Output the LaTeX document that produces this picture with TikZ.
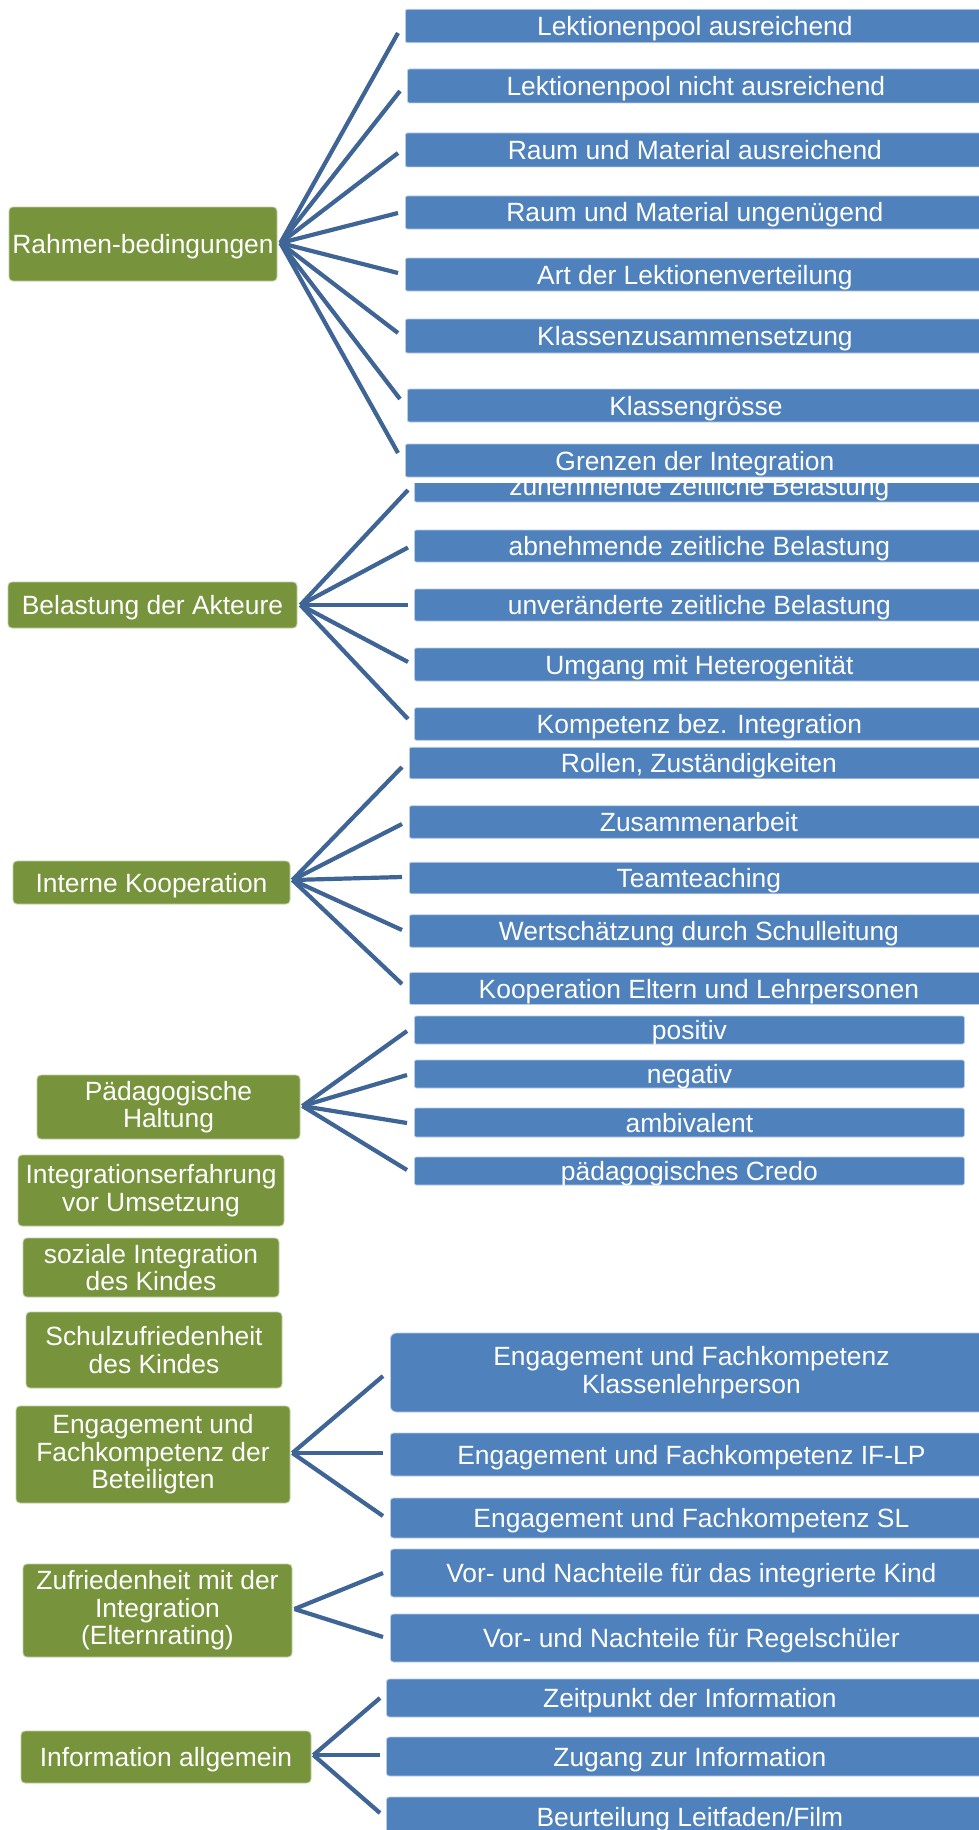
\documentclass[tikz,border=0pt]{standalone}
\usepackage{fontspec}
\setmainfont{Liberation Sans}
\definecolor{boxblue}{RGB}{79,129,189}
\definecolor{boxgreen}{RGB}{119,147,60}
\definecolor{linkblue}{RGB}{63,100,150}
\definecolor{edgeblue}{RGB}{185,205,229}
\definecolor{edgegreen}{RGB}{190,207,160}

\tikzset{
  labelfont/.style={font=\fontsize{26.4}{27.5}\selectfont},
  topic/.style={labelfont, fill=boxgreen, draw=edgegreen, line width=0.8pt,
    rounded corners=4pt, text=white, align=center, inner sep=0pt},
  topicone/.style={topic, text height=19pt, text depth=0pt},
  cell/.style={labelfont, fill=boxblue, draw=edgeblue, line width=0.8pt,
    rounded corners=2pt, text=white, align=center, inner sep=0pt, anchor=west},
  item/.style={cell, text height=19pt, text depth=0pt},
  link/.style={draw=linkblue, line width=4.2pt},
}

\begin{document}
\begin{tikzpicture}[x=1pt,y=1pt]
\useasboundingbox (0,0) rectangle (979,-1830);
\fill[white] (0,0) rectangle (979,-1830);
\clip (0,0) rectangle (979,-1830);

% ---- topics (left column)
\node[topicone, minimum width=268, minimum height=74] (g1) at (143,-244) {Rahmen-bedingungen};
\node[topicone, minimum width=289, minimum height=46] (g2) at (152.5,-605) {Belastung der Akteure};
\node[topicone, minimum width=277, minimum height=43] (g3) at (151.5,-882.5) {Interne Kooperation};
\node[topic, minimum width=263, minimum height=64] (g4) at (168.5,-1107) {Pädagogische\\Haltung};
\node[topic, minimum width=266, minimum height=71] (g5) at (151,-1190.5) {Integrationserfahrung\\vor Umsetzung};
\node[topic, minimum width=256, minimum height=59] (g6) at (151,-1267.5) {soziale Integration\\des Kindes};
\node[topic, minimum width=256, minimum height=76] (g7) at (154,-1350) {Schulzufriedenheit\\des Kindes};
\node[topic, minimum width=274, minimum height=97] (g8) at (153,-1454.5) {Engagement und\\Fachkompetenz der\\Beteiligten};
\node[topic, minimum width=269, minimum height=93] (g9) at (157.5,-1610.5) {Zufriedenheit mit der\\Integration\\(Elternrating)};
\node[topicone, minimum width=290, minimum height=52] (g10) at (166,-1757) {Information allgemein};

% ---- Rahmenbedingungen
\node[item, minimum width=579, minimum height=33.4] (b1) at (405,-26) {Lektionenpool ausreichend};
\node[item, minimum width=577, minimum height=34] (b2) at (407,-86) {Lektionenpool nicht ausreichend};
\node[item, minimum width=579, minimum height=34] (b3) at (405,-150) {Raum und Material ausreichend};
\node[item, minimum width=579, minimum height=33] (b4) at (405,-212.5) {Raum und Material ungenügend};
\node[item, minimum width=579, minimum height=33] (b5) at (405,-274.5) {Art der Lektionenverteilung};
\node[item, minimum width=579, minimum height=34] (b6) at (405,-336) {Klassenzusammensetzung};
\node[item, minimum width=577, minimum height=33] (b7) at (407,-405.5) {Klassengrösse};
\node[item, minimum width=579, minimum height=33] (b8) at (405,-460.5) {Grenzen der Integration};

% ---- Belastung der Akteure (first box partly hidden)
\begin{scope}
  \clip (410,-483) rectangle (990,-505);
  \node[item, minimum width=570, minimum height=33] (c1) at (414,-485.5) {zunehmende zeitliche Belastung};
\end{scope}
\node[item, minimum width=570, minimum height=32] (c2) at (414,-546) {abnehmende zeitliche Belastung};
\node[item, minimum width=570, minimum height=32] (c3) at (414,-605) {unveränderte zeitliche Belastung};
\node[item, minimum width=570, minimum height=33] (c4) at (414,-664.5) {Umgang mit Heterogenität};
\node[item, minimum width=570, minimum height=32.5] (c5) at (414,-724) {Kompetenz bez. Integration};

% ---- Interne Kooperation
\node[item, minimum width=579, minimum height=31.5] (d1) at (409,-763) {Rollen, Zuständigkeiten};
\node[item, minimum width=579, minimum height=32.5] (d2) at (409,-822) {Zusammenarbeit};
\node[item, minimum width=579, minimum height=31.5] (d3) at (409,-878) {Teamteaching};
\node[item, minimum width=579, minimum height=32.5] (d4) at (409,-931) {Wertschätzung durch Schulleitung};
\node[item, minimum width=579, minimum height=32] (d5) at (409,-988.5) {Kooperation Eltern und Lehrpersonen};

% ---- Pädagogische Haltung
\node[item, minimum width=550, minimum height=28] (e1) at (414,-1030) {positiv};
\node[item, minimum width=550, minimum height=28] (e2) at (414,-1074) {negativ};
\node[item, minimum width=550, minimum height=29] (e3) at (414,-1122.5) {ambivalent};
\node[item, minimum width=550, minimum height=28] (e4) at (414,-1171) {pädagogisches Credo};

% ---- Engagement und Fachkompetenz
\node[cell, rounded corners=6pt, minimum width=602, minimum height=79] (f1) at (390,-1372.5) {Engagement und Fachkompetenz\\Klassenlehrperson};
\node[item, rounded corners=3pt, minimum width=602, minimum height=43] (f2) at (390,-1454.5) {Engagement und Fachkompetenz IF-LP};
\node[item, rounded corners=3pt, minimum width=602, minimum height=40] (f3) at (390,-1518) {Engagement und Fachkompetenz SL};

% ---- Zufriedenheit mit der Integration
\node[item, rounded corners=3pt, minimum width=602, minimum height=48] (h1) at (390,-1573) {Vor- und Nachteile für das integrierte Kind};
\node[item, rounded corners=3pt, minimum width=602, minimum height=48] (h2) at (390,-1638) {Vor- und Nachteile für Regelschüler};

% ---- Information allgemein
\node[item, rounded corners=3pt, minimum width=607, minimum height=38] (i1) at (386,-1698) {Zeitpunkt der Information};
\node[item, rounded corners=3pt, minimum width=607, minimum height=39] (i2) at (386,-1756.5) {Zugang zur Information};
\node[item, rounded corners=3pt, minimum width=607, minimum height=39] (i3) at (386,-1816.5) {Beurteilung Leitfaden/Film};

% ---- connectors fanning out from each topic
\foreach \n/\dy in {b1/-7, b2/-5, b3/-3, b4/-0.5, b5/1.5, b6/3, b7/6.5, b8/7.5}
  \draw[link] ([shift={(3,1)}]g1.east) -- ([shift={(-7,\dy)}]\n.west);
\foreach \n/\dy in {c1/-4.5, c2/-1.5, c3/0, c4/2.5, c5/5}
  \draw[link] ([shift={(3,0)}]g2.east) -- ([shift={(-6,\dy)}]\n.west);
\foreach \n/\dy in {d1/-4, d2/-2, d3/1, d4/1, d5/4.5}
  \draw[link] ([shift={(2,2.5)}]g3.east) -- ([shift={(-7,\dy)}]\n.west);
\foreach \n/\dy in {e1/-1, e2/-1, e3/-0.5, e4/1}
  \draw[link] ([shift={(2,1)}]g4.east) -- ([shift={(-7,\dy)}]\n.west);
\foreach \n/\dy in {f1/-3.5, f2/1.5, f3/2}
  \draw[link] ([shift={(2,1.5)}]g8.east) -- ([shift={(-7,\dy)}]\n.west);
\foreach \n/\dy in {h1/0, h2/1}
  \draw[link] ([shift={(2,1.5)}]g9.east) -- ([shift={(-7,\dy)}]\n.west);
\foreach \n/\dy in {i1/0, i2/1.5, i3/3.5}
  \draw[link] ([shift={(2,2)}]g10.east) -- ([shift={(-6,\dy)}]\n.west);
\end{tikzpicture}
\end{document}
